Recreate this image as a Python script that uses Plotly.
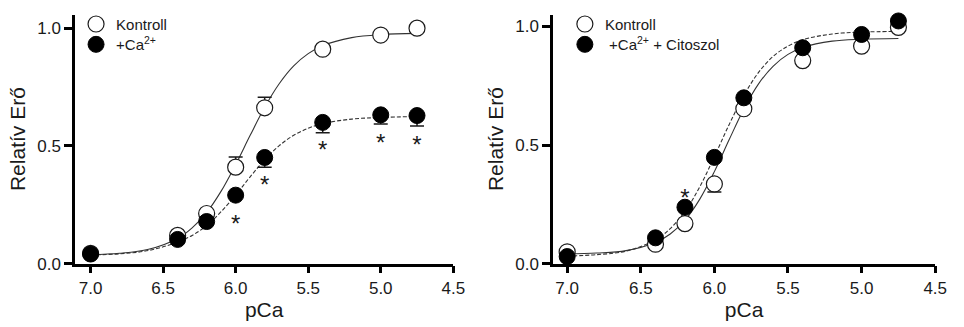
import plotly.graph_objects as go

# ---------------- data ----------------
pca = [7.0, 6.4, 6.2, 6.0, 5.8, 5.4, 5.0, 4.75]

# Left panel
L_kontroll = [0.044, 0.12, 0.213, 0.41, 0.662, 0.911, 0.971, 1.0]
L_kontroll_err_up = [0, 0, 0, 0.043, 0.045, 0, 0, 0]
L_ca = [0.041, 0.103, 0.179, 0.291, 0.451, 0.60, 0.632, 0.629]
L_ca_err_down = [0, 0, 0, 0, 0.042, 0.044, 0.039, 0.044]
L_star_x = [6.0, 5.8, 5.4, 5.0, 4.75]
L_star_y = [0.16, 0.325, 0.473, 0.503, 0.496]   # anchor of the "*" text

# Right panel
R_kontroll = [0.05, 0.082, 0.169, 0.336, 0.653, 0.856, 0.917, 0.996]
R_kontroll_err_down = [0, 0, 0, 0.034, 0, 0, 0, 0]
R_cit = [0.03, 0.109, 0.238, 0.448, 0.699, 0.91, 0.966, 1.023]
R_star_x = [6.2]
R_star_y = [0.269]

# fitted curves
curve_x = [7.0, 6.8, 6.6, 6.4, 6.3, 6.2, 6.1, 6.0, 5.9, 5.8, 5.7, 5.6, 5.5, 5.4, 5.2, 5.0, 4.75]
L_kontroll_fit = [0.038, 0.044, 0.061, 0.107, 0.152, 0.217, 0.308, 0.421, 0.545, 0.664, 0.764, 0.84, 0.892, 0.926, 0.96, 0.973, 0.978]
L_ca_fit = [0.037, 0.042, 0.056, 0.092, 0.12, 0.162, 0.221, 0.291, 0.369, 0.441, 0.501, 0.545, 0.575, 0.595, 0.614, 0.621, 0.625]
R_kontroll_fit = [0.041, 0.045, 0.055, 0.089, 0.125, 0.183, 0.271, 0.388, 0.522, 0.652, 0.758, 0.833, 0.882, 0.911, 0.938, 0.946, 0.949]
R_cit_fit = [0.032, 0.038, 0.053, 0.10, 0.148, 0.22, 0.323, 0.451, 0.586, 0.709, 0.806, 0.874, 0.917, 0.944, 0.968, 0.976, 0.979]

x_ticks = [7.0, 6.5, 6.0, 5.5, 5.0, 4.5]
y_ticks = [0.0, 0.5, 1.0]

FONT = "Liberation Sans, Arial, sans-serif"
INK = "#1a1a1a"
MS = 16

fig = go.Figure()

def curve(x, y, xa, ya, dash):
    fig.add_trace(go.Scatter(x=x, y=y, mode="lines", line=dict(color="#333", width=1.1, dash=dash, shape="spline"),
                             xaxis=xa, yaxis=ya, showlegend=False, hoverinfo="skip"))

curve(curve_x, L_kontroll_fit, "x", "y", "solid")
curve(curve_x, L_ca_fit, "x", "y", "4px,2px")
curve(curve_x, R_kontroll_fit, "x2", "y2", "solid")
curve(curve_x, R_cit_fit, "x2", "y2", "4px,2px")

open_marker = dict(symbol="circle", size=MS, color="white", line=dict(color=INK, width=1.2))
filled_marker = dict(symbol="circle", size=MS, color="black", line=dict(color="black", width=1))

# left panel points
fig.add_trace(go.Scatter(x=pca, y=L_kontroll, mode="markers", marker=open_marker, name="Kontroll",
                         error_y=dict(type="data", symmetric=False, array=L_kontroll_err_up,
                                      arrayminus=[0]*len(pca), color=INK, thickness=1.5, width=7),
                         xaxis="x", yaxis="y", legend="legend", cliponaxis=False))
fig.add_trace(go.Scatter(x=pca, y=L_ca, mode="markers", marker=filled_marker, name="+Ca<sup>2+</sup>",
                         error_y=dict(type="data", symmetric=False, array=[0]*len(pca),
                                      arrayminus=L_ca_err_down, color=INK, thickness=1.5, width=7),
                         xaxis="x", yaxis="y", legend="legend2", cliponaxis=False))
fig.add_trace(go.Scatter(x=L_star_x, y=L_star_y, mode="text", text=["*"]*len(L_star_x),
                         textfont=dict(family=FONT, size=24, color=INK), textposition="middle center",
                         xaxis="x", yaxis="y", showlegend=False, hoverinfo="skip", cliponaxis=False))

# right panel points
fig.add_trace(go.Scatter(x=pca, y=R_kontroll, mode="markers", marker=open_marker, name="Kontroll",
                         error_y=dict(type="data", symmetric=False, array=[0]*len(pca),
                                      arrayminus=R_kontroll_err_down, color=INK, thickness=1.5, width=7),
                         xaxis="x2", yaxis="y2", legend="legend3", cliponaxis=False))
fig.add_trace(go.Scatter(x=pca, y=R_cit, mode="markers", marker=filled_marker,
                         name="\u00a0+Ca<sup>2+</sup> + Citoszol",
                         xaxis="x2", yaxis="y2", legend="legend4", cliponaxis=False))
fig.add_trace(go.Scatter(x=R_star_x, y=R_star_y, mode="text", text=["*"]*len(R_star_x),
                         textfont=dict(family=FONT, size=24, color=INK), textposition="middle center",
                         xaxis="x2", yaxis="y2", showlegend=False, hoverinfo="skip", cliponaxis=False))

W, H = 964, 327

def xaxis(px0, px1, rng):
    return dict(domain=[px0 / W, px1 / W], range=rng, tickvals=x_ticks, ticktext=[f"{v:.1f}" for v in x_ticks],
                showline=True, linecolor="black", linewidth=2.5, ticks="outside", ticklen=7, tickwidth=2.5,
                tickcolor="black", showgrid=False, zeroline=False,
                tickfont=dict(family=FONT, size=17, color=INK),
                title=dict(text="pCa", font=dict(family=FONT, size=21, color=INK), standoff=2))

def yaxis(anchor, rng):
    return dict(domain=[(H - 272) / H, (H - 15) / H], range=rng, anchor=anchor, tickvals=y_ticks,
                ticktext=[f"{v:.1f}" for v in y_ticks],
                showline=True, linecolor="black", linewidth=2.5, ticks="outside", ticklen=8, tickwidth=2.5,
                tickcolor="black", showgrid=False, zeroline=False,
                tickfont=dict(family=FONT, size=17, color=INK),
                title=dict(text="Relatív Erő", font=dict(family=FONT, size=21, color=INK), standoff=6))

def leg(px_x, px_y):
    return dict(x=px_x / W, y=1 - px_y / H, xanchor="left", yanchor="middle", bgcolor="rgba(0,0,0,0)",
                font=dict(family=FONT, size=15, color=INK), itemwidth=30)

fig.update_layout(
    width=W, height=H, margin=dict(l=0, r=0, t=0, b=0),
    paper_bgcolor="white", plot_bgcolor="white",
    xaxis=xaxis(76, 459, [7.107, 4.5]),
    yaxis=yaxis("x", [0, 1.058]),
    xaxis2=dict(xaxis(560, 947, [7.096, 4.5]), anchor="y2"),
    yaxis2=yaxis("x2", [0, 1.05]),
    legend=leg(77, 25),
    legend2=leg(77, 46),
    legend3=leg(572, 25),
    legend4=leg(572, 46),
    showlegend=True,
)

fig.write_html("out.html")
